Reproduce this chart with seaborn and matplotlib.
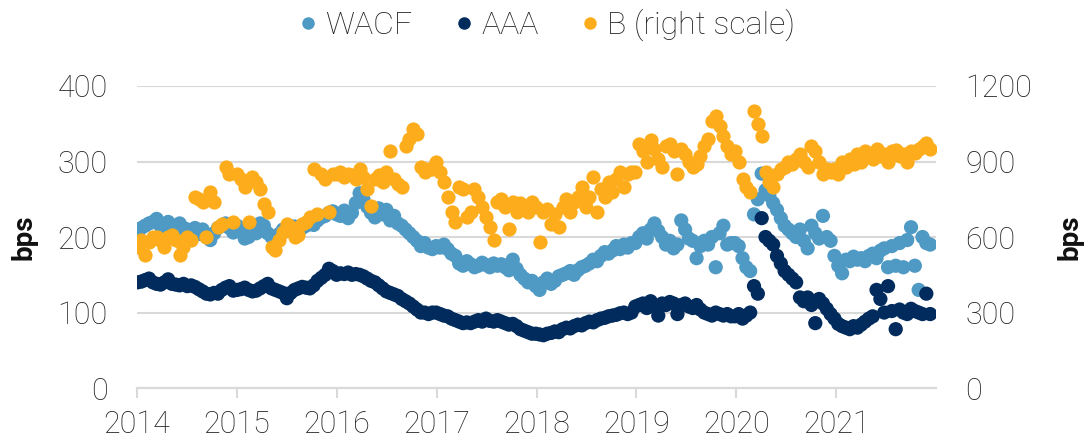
import numpy as np
import pandas as pd
import matplotlib.pyplot as plt
import seaborn as sns
from matplotlib.lines import Line2D

wacf = [
    208, 212, 215, 218, 220, 224, 215, 212, 220, 215, 208, 218, 212, 210, 205, 212, 204, 210, 200, 196, 205, 212, 215, 218, 212, 206,
    215, 210, 198, 200, 212, 205, 218, 215, 205, 200, 196, 204, 210, 208, 212, 214, 210, 212, 215, 218, 216, 222, 226, 228, 232, 234,
    230, 228, 235, 225, 232, 245, 258, 250, 240, 232, 226, 238, 230, 236, 222, 228, 218, 215, 210, 205, 200, 195, 188, 192, 186, 184,
    188, 186, 190, 184, 178, 175, 165, 162, 168, 164, 160, 162, 166, 163, 160, 165, 162, 164, 160, 156, 170, 158, 150, 145, 140, 142,
    135, 130, 140, 145, 138, 142, 148, 150, 152, 155, 150, 156, 160, 162, 165, 170, 168, 175, 180, 178, 182, 188, 184, 190, 186, 192,
    192, 200, 205, 198, 210, 218, 208, 200, 190, 195, 185, 190, 222, 210, 198, 195, 172, 188, 195, 190, 200, 160, 205, 215, 190, 192,
    192, 188, 172, 160, 155, 230, 250, 284, 262, 255, 245, 236, 225, 215, 210, 205, 200, 210, 195, 185, 215, 205, 198, 228, 200, 195,
    175, 162, 152, 170, 168, 174, 170, 172, 168, 175, 178, 172, 182, 185, 160, 188, 162, 192, 160, 196, 213, 162, 130, 200, 192, 190,
]
aaa = [
    140, 141, 143, 145, 140, 138, 137, 140, 144, 138, 137, 136, 138, 135, 136, 134, 131, 128, 125, 124, 126, 125, 130, 133, 135, 129,
    130, 131, 133, 130, 128, 129, 132, 135, 138, 132, 130, 128, 126, 119, 126, 130, 132, 134, 133, 132, 136, 142, 146, 150, 158, 155,
    150, 152, 151, 153, 150, 151, 150, 148, 145, 142, 140, 136, 132, 128, 126, 124, 122, 118, 115, 112, 108, 104, 100, 100, 98, 100,
    100, 98, 96, 95, 92, 90, 88, 86, 87, 86, 88, 90, 88, 92, 89, 88, 90, 88, 86, 84, 85, 82, 78, 76, 74, 72,
    72, 71, 70, 72, 73, 75, 74, 78, 80, 79, 82, 84, 83, 86, 88, 87, 90, 92, 93, 95, 96, 97, 99, 100, 98, 100,
    108, 110, 112, 106, 115, 108, 96, 112, 110, 114, 112, 98, 110, 112, 108, 106, 110, 104, 100, 98, 96, 100, 98, 96, 98, 95,
    95, 98, 92, 96, 100, 135, 125, 225, 200, 195, 190, 175, 165, 155, 150, 145, 140, 120, 115, 120, 110, 86, 118, 112, 105, 98,
    92, 85, 82, 80, 78, 82, 80, 84, 88, 92, 95, 130, 118, 100, 135, 102, 78, 104, 100, 98, 105, 102, 100, 98, 125, 98,
]
b_right = [
    560, 590, 530, 580, 600, 600, 590, 560, 600, 610, 590, 530, 560, 600, 590, 760, 750, 740, 600, 780, 740, 640, 650, 880, 850, 660,
    850, 830, 800, 660, 840, 820, 790, 730, 700, 560, 550, 590, 620, 650, 640, 600, 610, 650, 660, 680, 870, 690, 850, 830, 700, 850,
    850, 860, 840, 850, 845, 830, 870, 840, 790, 725, 830, 845, 820, 860, 940, 830, 810, 800, 960, 990, 1030, 1010, 880, 860, 870, 870,
    900, 860, 820, 760, 700, 660, 800, 790, 680, 700, 790, 760, 720, 680, 640, 590, 740, 750, 720, 630, 740, 700, 735, 720, 700, 740,
    720, 580, 700, 710, 650, 690, 640, 720, 750, 700, 740, 760, 800, 720, 760, 840, 700, 790, 760, 820, 780, 830, 860, 800, 850, 860,
    860, 970, 940, 900, 985, 950, 910, 880, 960, 970, 940, 850, 950, 930, 900, 880, 890, 920, 960, 990, 1060, 1080, 1040, 1000, 960, 930,
    940, 900, 830, 800, 780, 1100, 1050, 1000, 860, 820, 800, 850, 870, 880, 900, 890, 910, 930, 900, 880, 960, 940, 900, 850, 870, 860,
    870, 850, 900, 880, 910, 890, 930, 900, 940, 920, 910, 950, 920, 930, 900, 940, 945, 920, 930, 900, 940, 935, 950, 960, 975, 950,
]
dates = pd.date_range("2014-01-03", periods=len(wacf), freq="14D")
years = list(range(2014, 2022))

colors = {"WACF": "#4F9AC4", "AAA": "#002B5C", "B (right scale)": "#FDAD1C"}

left = pd.concat([
    pd.DataFrame({"date": dates, "bps": wacf, "series": "WACF"}),
    pd.DataFrame({"date": dates, "bps": aaa, "series": "AAA"}),
])
right = pd.DataFrame({"date": dates, "bps": b_right})

sns.set_theme(style="white")
plt.rcParams["font.family"] = ["Roboto", "DejaVu Sans"]

fig, ax = plt.subplots(figsize=(10.87, 4.41), dpi=100)
fig.subplots_adjust(left=0.126, right=0.861, bottom=0.12, top=0.805)

sns.scatterplot(data=left, x="date", y="bps", hue="series", palette=colors,
                s=105, linewidth=0, ax=ax, legend=False, zorder=3)
ax2 = ax.twinx()
sns.scatterplot(data=right, x="date", y="bps", color=colors["B (right scale)"],
                s=105, linewidth=0, ax=ax2, legend=False, zorder=3)

ax.set_xlim(pd.Timestamp("2014-01-01"), pd.Timestamp("2021-12-31"))
ax.set_ylim(0, 400)
ax2.set_ylim(0, 1200)
ax.set_yticks(range(0, 401, 100))
ax2.set_yticks(range(0, 1201, 300))
ax.set_xticks([pd.Timestamp(f"{y}-01-01") for y in years])
ax.set_xticklabels([str(y) for y in years])

grid_c = "#d9d9d9"
ax.grid(axis="y", color=grid_c, linewidth=1.5, zorder=0)
ax.set_axisbelow(True)
for a in (ax, ax2):
    for s in ("top", "left", "right"):
        a.spines[s].set_visible(False)
    a.spines["bottom"].set_color(grid_c)
    a.spines["bottom"].set_linewidth(1.5)
    a.tick_params(axis="y", length=0, pad=21, labelsize=22, labelcolor="#222222")
ax.tick_params(axis="x", length=7.5, width=1.5, color=grid_c, direction="out",
               pad=8, labelsize=22, labelcolor="#222222", bottom=True)
for lab in ax.get_xticklabels() + ax.get_yticklabels() + ax2.get_yticklabels():
    lab.set_fontweight("light")

ax.set_xlabel("")
ax.set_ylabel("bps", fontsize=20, fontweight="bold", color="#111111")
ax2.set_ylabel("bps", fontsize=20, fontweight="bold", color="#111111",
               rotation=90, va="top")
ax.yaxis.set_label_coords(-0.124, 0.5)
ax2.yaxis.set_label_coords(1.151, 0.5)

handles = [Line2D([], [], marker="o", linestyle="", markersize=9,
                  markerfacecolor=c, markeredgewidth=0) for c in colors.values()]
leg = fig.legend(handles, list(colors.keys()), loc="upper center", ncol=3,
                 bbox_to_anchor=(0.5, 1.045), frameon=False, fontsize=23,
                 handletextpad=0.05, columnspacing=1.1, handlelength=1.0)
for t in leg.get_texts():
    t.set_fontweight("light")
    t.set_color("#222222")

fig.savefig("out.png", dpi=100)
